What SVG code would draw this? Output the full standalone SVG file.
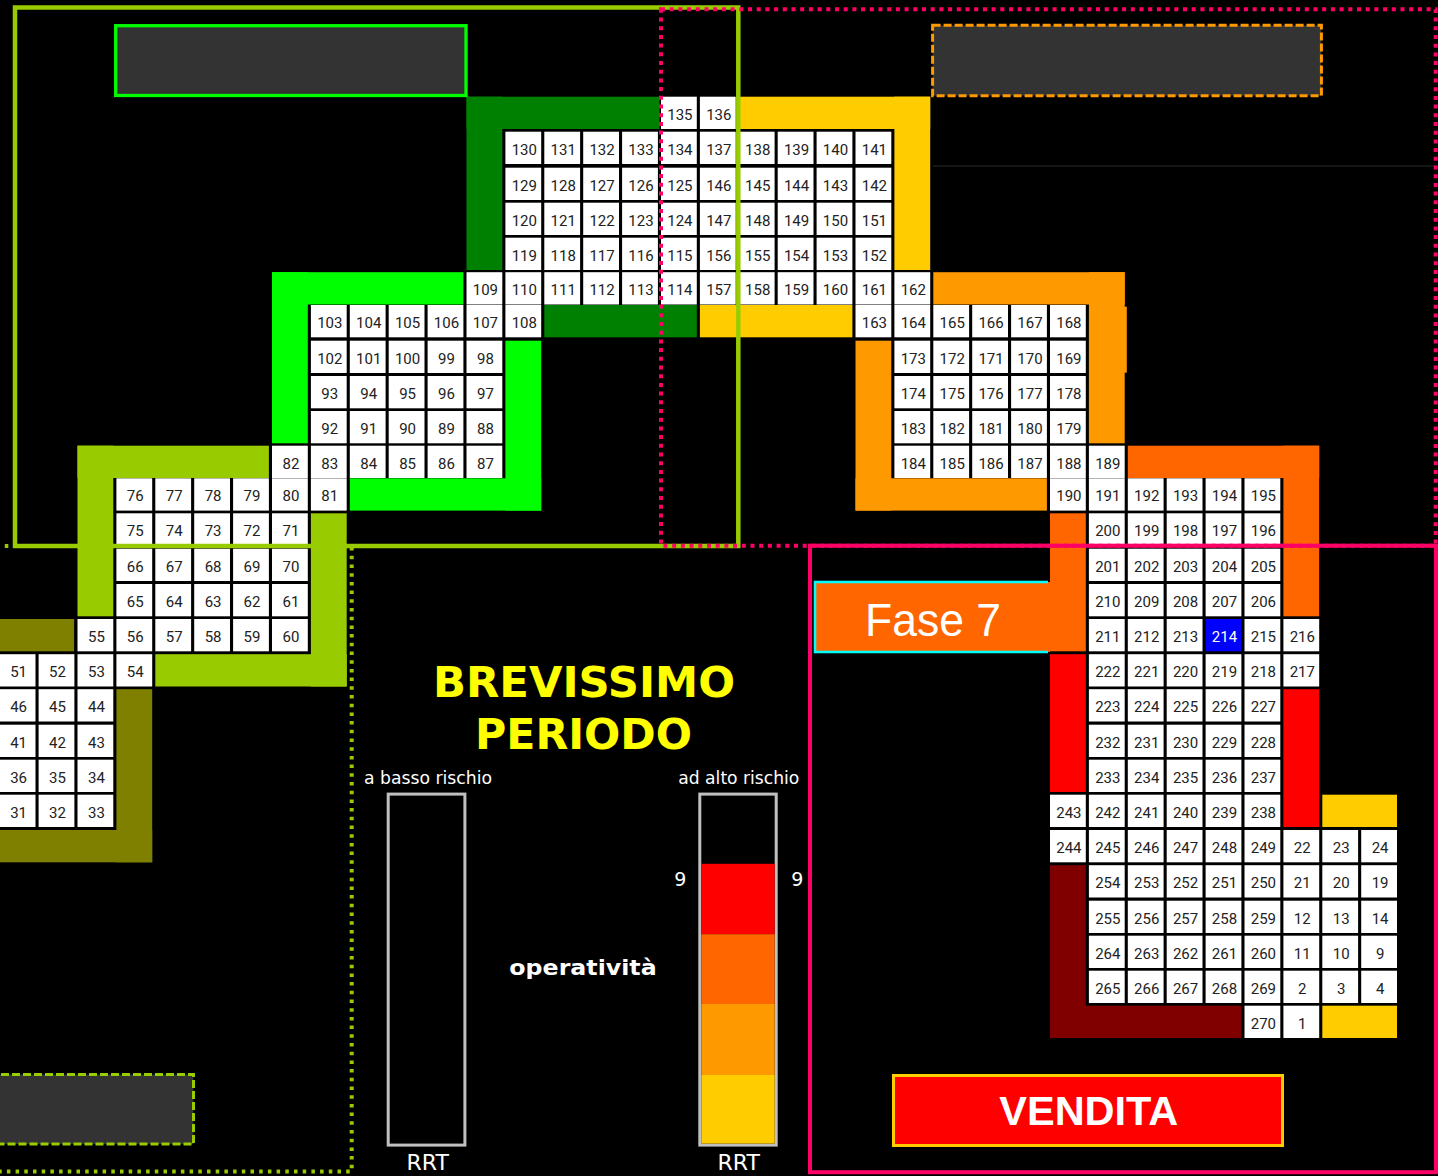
<svg xmlns="http://www.w3.org/2000/svg" xmlns:xlink="http://www.w3.org/1999/xlink" width="1438" height="1176" viewBox="0 0 1438 1176">
<style>
.cells text{font-family:Roboto,"Noto Sans","DejaVu Sans",sans-serif;font-size:15px;fill:#222;text-anchor:middle}
.lbl{font-family:"DejaVu Sans","Liberation Sans",sans-serif;fill:#fff}
.title{font-family:"DejaVu Sans","Liberation Sans",sans-serif;font-weight:bold;fill:#FFFF00;font-size:42px;text-anchor:middle}
.gbox{fill:#333333}
.dotp{fill:none;stroke:#FF0066;stroke-width:4;stroke-dasharray:4 4.7}
.dotg{fill:none;stroke:#99CC00;stroke-width:4;stroke-dasharray:3.5 5.2}
</style>
<defs><rect id="cb" width="35.8" height="32.3" fill="#fff"/></defs>
<rect x="0" y="0" width="1438" height="1176" fill="#000"/>

<g id="bands">
<g id="band-darkgreen" fill="#008000">
<rect x="466.5" y="96.7" width="193" height="32.3"/>
<rect x="466.5" y="96.7" width="35.8" height="173.3"/>
<rect x="544.3" y="305" width="152.5" height="32.3"/>
</g>
<g id="band-yellow" fill="#FFCC00">
<rect x="738.8" y="96.7" width="191.4" height="32.3"/>
<rect x="894.4" y="96.7" width="35.8" height="173.3"/>
<rect x="699.9" y="305" width="152.5" height="32.3"/>
<rect x="1322.3" y="794.7" width="74.7" height="32.3"/>
<rect x="1322.3" y="1005.7" width="74.7" height="32.3"/>
</g>
<g id="band-green" fill="#00FF00">
<rect x="272" y="272.2" width="191.4" height="32.3"/>
<rect x="272" y="272.2" width="35.8" height="171.1"/>
<rect x="505.4" y="340.7" width="35.8" height="169.9"/>
<rect x="349.8" y="478.3" width="191.4" height="32.3"/>
</g>
<g id="band-lime" fill="#99CC00">
<rect x="77.5" y="445.7" width="191.4" height="32.3"/>
<rect x="77.5" y="445.7" width="35.8" height="170.6"/>
<rect x="310.9" y="513.3" width="35.8" height="173.2"/>
<rect x="155.3" y="654.2" width="191.4" height="32.3"/>
</g>
<g id="band-olive" fill="#808000">
<rect x="0" y="619" width="74.1" height="32.3"/>
<rect x="116.4" y="689.2" width="35.8" height="173.1"/>
<rect x="0" y="830" width="152.2" height="32.3"/>
</g>
<g id="band-orange" fill="#FF9900">
<rect x="933.3" y="272.2" width="191.4" height="32.3"/>
<rect x="1088.9" y="272.2" width="35.8" height="171.1"/>
<rect x="1124" y="306.7" width="2.8" height="66"/>
<rect x="855.5" y="340.7" width="35.8" height="169.9"/>
<rect x="855.5" y="478.3" width="191.4" height="32.3"/>
</g>
<g id="band-darkorange" fill="#FF6600">
<rect x="1127.8" y="445.7" width="191.4" height="32.3"/>
<rect x="1283.4" y="445.7" width="35.8" height="170.6"/>
<rect x="1050" y="513.3" width="35.8" height="138"/>
</g>
<g id="band-red" fill="#FF0000">
<rect x="1050" y="654.2" width="35.8" height="137.8"/>
<rect x="1283.4" y="689.2" width="35.8" height="137.8"/>
</g>
<g id="band-darkred" fill="#800000">
<rect x="1050" y="865.2" width="35.8" height="172.8"/>
<rect x="1050" y="1005.7" width="191.4" height="32.3"/>
</g>
</g>

<g class="cells">
<g id="c135"><use href="#cb" x="661" y="96.7"/><text x="679.9" y="119.5">135</text></g>
<g id="c136"><use href="#cb" x="699.9" y="96.7"/><text x="718.8" y="119.5">136</text></g>

<g id="c130"><use href="#cb" x="505.4" y="131.7"/><text x="524.3" y="154.5">130</text></g>
<g id="c131"><use href="#cb" x="544.3" y="131.7"/><text x="563.2" y="154.5">131</text></g>
<g id="c132"><use href="#cb" x="583.2" y="131.7"/><text x="602.1" y="154.5">132</text></g>
<g id="c133"><use href="#cb" x="622.1" y="131.7"/><text x="641" y="154.5">133</text></g>
<g id="c134"><use href="#cb" x="661" y="131.7"/><text x="679.9" y="154.5">134</text></g>
<g id="c137"><use href="#cb" x="699.9" y="131.7"/><text x="718.8" y="154.5">137</text></g>
<g id="c138"><use href="#cb" x="738.8" y="131.7"/><text x="757.7" y="154.5">138</text></g>
<g id="c139"><use href="#cb" x="777.7" y="131.7"/><text x="796.6" y="154.5">139</text></g>
<g id="c140"><use href="#cb" x="816.6" y="131.7"/><text x="835.5" y="154.5">140</text></g>
<g id="c141"><use href="#cb" x="855.5" y="131.7"/><text x="874.4" y="154.5">141</text></g>

<g id="c129"><use href="#cb" x="505.4" y="167.7"/><text x="524.3" y="190.5">129</text></g>
<g id="c128"><use href="#cb" x="544.3" y="167.7"/><text x="563.2" y="190.5">128</text></g>
<g id="c127"><use href="#cb" x="583.2" y="167.7"/><text x="602.1" y="190.5">127</text></g>
<g id="c126"><use href="#cb" x="622.1" y="167.7"/><text x="641" y="190.5">126</text></g>
<g id="c125"><use href="#cb" x="661" y="167.7"/><text x="679.9" y="190.5">125</text></g>
<g id="c146"><use href="#cb" x="699.9" y="167.7"/><text x="718.8" y="190.5">146</text></g>
<g id="c145"><use href="#cb" x="738.8" y="167.7"/><text x="757.7" y="190.5">145</text></g>
<g id="c144"><use href="#cb" x="777.7" y="167.7"/><text x="796.6" y="190.5">144</text></g>
<g id="c143"><use href="#cb" x="816.6" y="167.7"/><text x="835.5" y="190.5">143</text></g>
<g id="c142"><use href="#cb" x="855.5" y="167.7"/><text x="874.4" y="190.5">142</text></g>

<g id="c120"><use href="#cb" x="505.4" y="202.7"/><text x="524.3" y="225.5">120</text></g>
<g id="c121"><use href="#cb" x="544.3" y="202.7"/><text x="563.2" y="225.5">121</text></g>
<g id="c122"><use href="#cb" x="583.2" y="202.7"/><text x="602.1" y="225.5">122</text></g>
<g id="c123"><use href="#cb" x="622.1" y="202.7"/><text x="641" y="225.5">123</text></g>
<g id="c124"><use href="#cb" x="661" y="202.7"/><text x="679.9" y="225.5">124</text></g>
<g id="c147"><use href="#cb" x="699.9" y="202.7"/><text x="718.8" y="225.5">147</text></g>
<g id="c148"><use href="#cb" x="738.8" y="202.7"/><text x="757.7" y="225.5">148</text></g>
<g id="c149"><use href="#cb" x="777.7" y="202.7"/><text x="796.6" y="225.5">149</text></g>
<g id="c150"><use href="#cb" x="816.6" y="202.7"/><text x="835.5" y="225.5">150</text></g>
<g id="c151"><use href="#cb" x="855.5" y="202.7"/><text x="874.4" y="225.5">151</text></g>

<g id="c119"><use href="#cb" x="505.4" y="237.7"/><text x="524.3" y="260.5">119</text></g>
<g id="c118"><use href="#cb" x="544.3" y="237.7"/><text x="563.2" y="260.5">118</text></g>
<g id="c117"><use href="#cb" x="583.2" y="237.7"/><text x="602.1" y="260.5">117</text></g>
<g id="c116"><use href="#cb" x="622.1" y="237.7"/><text x="641" y="260.5">116</text></g>
<g id="c115"><use href="#cb" x="661" y="237.7"/><text x="679.9" y="260.5">115</text></g>
<g id="c156"><use href="#cb" x="699.9" y="237.7"/><text x="718.8" y="260.5">156</text></g>
<g id="c155"><use href="#cb" x="738.8" y="237.7"/><text x="757.7" y="260.5">155</text></g>
<g id="c154"><use href="#cb" x="777.7" y="237.7"/><text x="796.6" y="260.5">154</text></g>
<g id="c153"><use href="#cb" x="816.6" y="237.7"/><text x="835.5" y="260.5">153</text></g>
<g id="c152"><use href="#cb" x="855.5" y="237.7"/><text x="874.4" y="260.5">152</text></g>

<g id="c109"><use href="#cb" x="466.5" y="272.2"/><text x="485.4" y="295">109</text></g>
<g id="c110"><use href="#cb" x="505.4" y="272.2"/><text x="524.3" y="295">110</text></g>
<g id="c111"><use href="#cb" x="544.3" y="272.2"/><text x="563.2" y="295">111</text></g>
<g id="c112"><use href="#cb" x="583.2" y="272.2"/><text x="602.1" y="295">112</text></g>
<g id="c113"><use href="#cb" x="622.1" y="272.2"/><text x="641" y="295">113</text></g>
<g id="c114"><use href="#cb" x="661" y="272.2"/><text x="679.9" y="295">114</text></g>
<g id="c157"><use href="#cb" x="699.9" y="272.2"/><text x="718.8" y="295">157</text></g>
<g id="c158"><use href="#cb" x="738.8" y="272.2"/><text x="757.7" y="295">158</text></g>
<g id="c159"><use href="#cb" x="777.7" y="272.2"/><text x="796.6" y="295">159</text></g>
<g id="c160"><use href="#cb" x="816.6" y="272.2"/><text x="835.5" y="295">160</text></g>
<g id="c161"><use href="#cb" x="855.5" y="272.2"/><text x="874.4" y="295">161</text></g>
<g id="c162"><use href="#cb" x="894.4" y="272.2"/><text x="913.3" y="295">162</text></g>

<g id="c103"><use href="#cb" x="310.9" y="305"/><text x="329.8" y="327.8">103</text></g>
<g id="c104"><use href="#cb" x="349.8" y="305"/><text x="368.7" y="327.8">104</text></g>
<g id="c105"><use href="#cb" x="388.7" y="305"/><text x="407.6" y="327.8">105</text></g>
<g id="c106"><use href="#cb" x="427.6" y="305"/><text x="446.5" y="327.8">106</text></g>
<g id="c107"><use href="#cb" x="466.5" y="305"/><text x="485.4" y="327.8">107</text></g>
<g id="c108"><use href="#cb" x="505.4" y="305"/><text x="524.3" y="327.8">108</text></g>
<g id="c163"><use href="#cb" x="855.5" y="305"/><text x="874.4" y="327.8">163</text></g>
<g id="c164"><use href="#cb" x="894.4" y="305"/><text x="913.3" y="327.8">164</text></g>
<g id="c165"><use href="#cb" x="933.3" y="305"/><text x="952.2" y="327.8">165</text></g>
<g id="c166"><use href="#cb" x="972.2" y="305"/><text x="991.1" y="327.8">166</text></g>
<g id="c167"><use href="#cb" x="1011.1" y="305"/><text x="1030" y="327.8">167</text></g>
<g id="c168"><use href="#cb" x="1050" y="305"/><text x="1068.9" y="327.8">168</text></g>

<g id="c102"><use href="#cb" x="310.9" y="340.7"/><text x="329.8" y="363.5">102</text></g>
<g id="c101"><use href="#cb" x="349.8" y="340.7"/><text x="368.7" y="363.5">101</text></g>
<g id="c100"><use href="#cb" x="388.7" y="340.7"/><text x="407.6" y="363.5">100</text></g>
<g id="c99"><use href="#cb" x="427.6" y="340.7"/><text x="446.5" y="363.5">99</text></g>
<g id="c98"><use href="#cb" x="466.5" y="340.7"/><text x="485.4" y="363.5">98</text></g>
<g id="c173"><use href="#cb" x="894.4" y="340.7"/><text x="913.3" y="363.5">173</text></g>
<g id="c172"><use href="#cb" x="933.3" y="340.7"/><text x="952.2" y="363.5">172</text></g>
<g id="c171"><use href="#cb" x="972.2" y="340.7"/><text x="991.1" y="363.5">171</text></g>
<g id="c170"><use href="#cb" x="1011.1" y="340.7"/><text x="1030" y="363.5">170</text></g>
<g id="c169"><use href="#cb" x="1050" y="340.7"/><text x="1068.9" y="363.5">169</text></g>

<g id="c93"><use href="#cb" x="310.9" y="376"/><text x="329.8" y="398.8">93</text></g>
<g id="c94"><use href="#cb" x="349.8" y="376"/><text x="368.7" y="398.8">94</text></g>
<g id="c95"><use href="#cb" x="388.7" y="376"/><text x="407.6" y="398.8">95</text></g>
<g id="c96"><use href="#cb" x="427.6" y="376"/><text x="446.5" y="398.8">96</text></g>
<g id="c97"><use href="#cb" x="466.5" y="376"/><text x="485.4" y="398.8">97</text></g>
<g id="c174"><use href="#cb" x="894.4" y="376"/><text x="913.3" y="398.8">174</text></g>
<g id="c175"><use href="#cb" x="933.3" y="376"/><text x="952.2" y="398.8">175</text></g>
<g id="c176"><use href="#cb" x="972.2" y="376"/><text x="991.1" y="398.8">176</text></g>
<g id="c177"><use href="#cb" x="1011.1" y="376"/><text x="1030" y="398.8">177</text></g>
<g id="c178"><use href="#cb" x="1050" y="376"/><text x="1068.9" y="398.8">178</text></g>

<g id="c92"><use href="#cb" x="310.9" y="411"/><text x="329.8" y="433.8">92</text></g>
<g id="c91"><use href="#cb" x="349.8" y="411"/><text x="368.7" y="433.8">91</text></g>
<g id="c90"><use href="#cb" x="388.7" y="411"/><text x="407.6" y="433.8">90</text></g>
<g id="c89"><use href="#cb" x="427.6" y="411"/><text x="446.5" y="433.8">89</text></g>
<g id="c88"><use href="#cb" x="466.5" y="411"/><text x="485.4" y="433.8">88</text></g>
<g id="c183"><use href="#cb" x="894.4" y="411"/><text x="913.3" y="433.8">183</text></g>
<g id="c182"><use href="#cb" x="933.3" y="411"/><text x="952.2" y="433.8">182</text></g>
<g id="c181"><use href="#cb" x="972.2" y="411"/><text x="991.1" y="433.8">181</text></g>
<g id="c180"><use href="#cb" x="1011.1" y="411"/><text x="1030" y="433.8">180</text></g>
<g id="c179"><use href="#cb" x="1050" y="411"/><text x="1068.9" y="433.8">179</text></g>

<g id="c82"><use href="#cb" x="272" y="445.7"/><text x="290.9" y="468.5">82</text></g>
<g id="c83"><use href="#cb" x="310.9" y="445.7"/><text x="329.8" y="468.5">83</text></g>
<g id="c84"><use href="#cb" x="349.8" y="445.7"/><text x="368.7" y="468.5">84</text></g>
<g id="c85"><use href="#cb" x="388.7" y="445.7"/><text x="407.6" y="468.5">85</text></g>
<g id="c86"><use href="#cb" x="427.6" y="445.7"/><text x="446.5" y="468.5">86</text></g>
<g id="c87"><use href="#cb" x="466.5" y="445.7"/><text x="485.4" y="468.5">87</text></g>
<g id="c184"><use href="#cb" x="894.4" y="445.7"/><text x="913.3" y="468.5">184</text></g>
<g id="c185"><use href="#cb" x="933.3" y="445.7"/><text x="952.2" y="468.5">185</text></g>
<g id="c186"><use href="#cb" x="972.2" y="445.7"/><text x="991.1" y="468.5">186</text></g>
<g id="c187"><use href="#cb" x="1011.1" y="445.7"/><text x="1030" y="468.5">187</text></g>
<g id="c188"><use href="#cb" x="1050" y="445.7"/><text x="1068.9" y="468.5">188</text></g>
<g id="c189"><use href="#cb" x="1088.9" y="445.7"/><text x="1107.8" y="468.5">189</text></g>

<g id="c76"><use href="#cb" x="116.4" y="478.3"/><text x="135.3" y="501.1">76</text></g>
<g id="c77"><use href="#cb" x="155.3" y="478.3"/><text x="174.2" y="501.1">77</text></g>
<g id="c78"><use href="#cb" x="194.2" y="478.3"/><text x="213.1" y="501.1">78</text></g>
<g id="c79"><use href="#cb" x="233.1" y="478.3"/><text x="252" y="501.1">79</text></g>
<g id="c80"><use href="#cb" x="272" y="478.3"/><text x="290.9" y="501.1">80</text></g>
<g id="c81"><use href="#cb" x="310.9" y="478.3"/><text x="329.8" y="501.1">81</text></g>
<g id="c190"><use href="#cb" x="1050" y="478.3"/><text x="1068.9" y="501.1">190</text></g>
<g id="c191"><use href="#cb" x="1088.9" y="478.3"/><text x="1107.8" y="501.1">191</text></g>
<g id="c192"><use href="#cb" x="1127.8" y="478.3"/><text x="1146.7" y="501.1">192</text></g>
<g id="c193"><use href="#cb" x="1166.7" y="478.3"/><text x="1185.6" y="501.1">193</text></g>
<g id="c194"><use href="#cb" x="1205.6" y="478.3"/><text x="1224.5" y="501.1">194</text></g>
<g id="c195"><use href="#cb" x="1244.5" y="478.3"/><text x="1263.4" y="501.1">195</text></g>

<g id="c75"><use href="#cb" x="116.4" y="513.3"/><text x="135.3" y="536.1">75</text></g>
<g id="c74"><use href="#cb" x="155.3" y="513.3"/><text x="174.2" y="536.1">74</text></g>
<g id="c73"><use href="#cb" x="194.2" y="513.3"/><text x="213.1" y="536.1">73</text></g>
<g id="c72"><use href="#cb" x="233.1" y="513.3"/><text x="252" y="536.1">72</text></g>
<g id="c71"><use href="#cb" x="272" y="513.3"/><text x="290.9" y="536.1">71</text></g>
<g id="c200"><use href="#cb" x="1088.9" y="513.3"/><text x="1107.8" y="536.1">200</text></g>
<g id="c199"><use href="#cb" x="1127.8" y="513.3"/><text x="1146.7" y="536.1">199</text></g>
<g id="c198"><use href="#cb" x="1166.7" y="513.3"/><text x="1185.6" y="536.1">198</text></g>
<g id="c197"><use href="#cb" x="1205.6" y="513.3"/><text x="1224.5" y="536.1">197</text></g>
<g id="c196"><use href="#cb" x="1244.5" y="513.3"/><text x="1263.4" y="536.1">196</text></g>

<g id="c66"><use href="#cb" x="116.4" y="548.7"/><text x="135.3" y="571.5">66</text></g>
<g id="c67"><use href="#cb" x="155.3" y="548.7"/><text x="174.2" y="571.5">67</text></g>
<g id="c68"><use href="#cb" x="194.2" y="548.7"/><text x="213.1" y="571.5">68</text></g>
<g id="c69"><use href="#cb" x="233.1" y="548.7"/><text x="252" y="571.5">69</text></g>
<g id="c70"><use href="#cb" x="272" y="548.7"/><text x="290.9" y="571.5">70</text></g>
<g id="c201"><use href="#cb" x="1088.9" y="548.7"/><text x="1107.8" y="571.5">201</text></g>
<g id="c202"><use href="#cb" x="1127.8" y="548.7"/><text x="1146.7" y="571.5">202</text></g>
<g id="c203"><use href="#cb" x="1166.7" y="548.7"/><text x="1185.6" y="571.5">203</text></g>
<g id="c204"><use href="#cb" x="1205.6" y="548.7"/><text x="1224.5" y="571.5">204</text></g>
<g id="c205"><use href="#cb" x="1244.5" y="548.7"/><text x="1263.4" y="571.5">205</text></g>

<g id="c65"><use href="#cb" x="116.4" y="584"/><text x="135.3" y="606.8">65</text></g>
<g id="c64"><use href="#cb" x="155.3" y="584"/><text x="174.2" y="606.8">64</text></g>
<g id="c63"><use href="#cb" x="194.2" y="584"/><text x="213.1" y="606.8">63</text></g>
<g id="c62"><use href="#cb" x="233.1" y="584"/><text x="252" y="606.8">62</text></g>
<g id="c61"><use href="#cb" x="272" y="584"/><text x="290.9" y="606.8">61</text></g>
<g id="c210"><use href="#cb" x="1088.9" y="584"/><text x="1107.8" y="606.8">210</text></g>
<g id="c209"><use href="#cb" x="1127.8" y="584"/><text x="1146.7" y="606.8">209</text></g>
<g id="c208"><use href="#cb" x="1166.7" y="584"/><text x="1185.6" y="606.8">208</text></g>
<g id="c207"><use href="#cb" x="1205.6" y="584"/><text x="1224.5" y="606.8">207</text></g>
<g id="c206"><use href="#cb" x="1244.5" y="584"/><text x="1263.4" y="606.8">206</text></g>

<g id="c55"><use href="#cb" x="77.5" y="619"/><text x="96.4" y="641.8">55</text></g>
<g id="c56"><use href="#cb" x="116.4" y="619"/><text x="135.3" y="641.8">56</text></g>
<g id="c57"><use href="#cb" x="155.3" y="619"/><text x="174.2" y="641.8">57</text></g>
<g id="c58"><use href="#cb" x="194.2" y="619"/><text x="213.1" y="641.8">58</text></g>
<g id="c59"><use href="#cb" x="233.1" y="619"/><text x="252" y="641.8">59</text></g>
<g id="c60"><use href="#cb" x="272" y="619"/><text x="290.9" y="641.8">60</text></g>
<g id="c211"><use href="#cb" x="1088.9" y="619"/><text x="1107.8" y="641.8">211</text></g>
<g id="c212"><use href="#cb" x="1127.8" y="619"/><text x="1146.7" y="641.8">212</text></g>
<g id="c213"><use href="#cb" x="1166.7" y="619"/><text x="1185.6" y="641.8">213</text></g>
<g id="c214"><rect x="1205.6" y="619" width="35.8" height="32.3" fill="#0000FF"/><text x="1224.5" y="641.8" style="fill:#fff">214</text></g>
<g id="c215"><use href="#cb" x="1244.5" y="619"/><text x="1263.4" y="641.8">215</text></g>
<g id="c216"><use href="#cb" x="1283.4" y="619"/><text x="1302.3" y="641.8">216</text></g>

<g id="c51"><use href="#cb" x="-0.3" y="654.2"/><text x="18.6" y="677">51</text></g>
<g id="c52"><use href="#cb" x="38.6" y="654.2"/><text x="57.5" y="677">52</text></g>
<g id="c53"><use href="#cb" x="77.5" y="654.2"/><text x="96.4" y="677">53</text></g>
<g id="c54"><use href="#cb" x="116.4" y="654.2"/><text x="135.3" y="677">54</text></g>
<g id="c222"><use href="#cb" x="1088.9" y="654.2"/><text x="1107.8" y="677">222</text></g>
<g id="c221"><use href="#cb" x="1127.8" y="654.2"/><text x="1146.7" y="677">221</text></g>
<g id="c220"><use href="#cb" x="1166.7" y="654.2"/><text x="1185.6" y="677">220</text></g>
<g id="c219"><use href="#cb" x="1205.6" y="654.2"/><text x="1224.5" y="677">219</text></g>
<g id="c218"><use href="#cb" x="1244.5" y="654.2"/><text x="1263.4" y="677">218</text></g>
<g id="c217"><use href="#cb" x="1283.4" y="654.2"/><text x="1302.3" y="677">217</text></g>

<g id="c46"><use href="#cb" x="-0.3" y="689.2"/><text x="18.6" y="712">46</text></g>
<g id="c45"><use href="#cb" x="38.6" y="689.2"/><text x="57.5" y="712">45</text></g>
<g id="c44"><use href="#cb" x="77.5" y="689.2"/><text x="96.4" y="712">44</text></g>
<g id="c223"><use href="#cb" x="1088.9" y="689.2"/><text x="1107.8" y="712">223</text></g>
<g id="c224"><use href="#cb" x="1127.8" y="689.2"/><text x="1146.7" y="712">224</text></g>
<g id="c225"><use href="#cb" x="1166.7" y="689.2"/><text x="1185.6" y="712">225</text></g>
<g id="c226"><use href="#cb" x="1205.6" y="689.2"/><text x="1224.5" y="712">226</text></g>
<g id="c227"><use href="#cb" x="1244.5" y="689.2"/><text x="1263.4" y="712">227</text></g>

<g id="c41"><use href="#cb" x="-0.3" y="724.7"/><text x="18.6" y="747.5">41</text></g>
<g id="c42"><use href="#cb" x="38.6" y="724.7"/><text x="57.5" y="747.5">42</text></g>
<g id="c43"><use href="#cb" x="77.5" y="724.7"/><text x="96.4" y="747.5">43</text></g>
<g id="c232"><use href="#cb" x="1088.9" y="724.7"/><text x="1107.8" y="747.5">232</text></g>
<g id="c231"><use href="#cb" x="1127.8" y="724.7"/><text x="1146.7" y="747.5">231</text></g>
<g id="c230"><use href="#cb" x="1166.7" y="724.7"/><text x="1185.6" y="747.5">230</text></g>
<g id="c229"><use href="#cb" x="1205.6" y="724.7"/><text x="1224.5" y="747.5">229</text></g>
<g id="c228"><use href="#cb" x="1244.5" y="724.7"/><text x="1263.4" y="747.5">228</text></g>

<g id="c36"><use href="#cb" x="-0.3" y="759.7"/><text x="18.6" y="782.5">36</text></g>
<g id="c35"><use href="#cb" x="38.6" y="759.7"/><text x="57.5" y="782.5">35</text></g>
<g id="c34"><use href="#cb" x="77.5" y="759.7"/><text x="96.4" y="782.5">34</text></g>
<g id="c233"><use href="#cb" x="1088.9" y="759.7"/><text x="1107.8" y="782.5">233</text></g>
<g id="c234"><use href="#cb" x="1127.8" y="759.7"/><text x="1146.7" y="782.5">234</text></g>
<g id="c235"><use href="#cb" x="1166.7" y="759.7"/><text x="1185.6" y="782.5">235</text></g>
<g id="c236"><use href="#cb" x="1205.6" y="759.7"/><text x="1224.5" y="782.5">236</text></g>
<g id="c237"><use href="#cb" x="1244.5" y="759.7"/><text x="1263.4" y="782.5">237</text></g>

<g id="c31"><use href="#cb" x="-0.3" y="794.7"/><text x="18.6" y="817.5">31</text></g>
<g id="c32"><use href="#cb" x="38.6" y="794.7"/><text x="57.5" y="817.5">32</text></g>
<g id="c33"><use href="#cb" x="77.5" y="794.7"/><text x="96.4" y="817.5">33</text></g>
<g id="c243"><use href="#cb" x="1050" y="794.7"/><text x="1068.9" y="817.5">243</text></g>
<g id="c242"><use href="#cb" x="1088.9" y="794.7"/><text x="1107.8" y="817.5">242</text></g>
<g id="c241"><use href="#cb" x="1127.8" y="794.7"/><text x="1146.7" y="817.5">241</text></g>
<g id="c240"><use href="#cb" x="1166.7" y="794.7"/><text x="1185.6" y="817.5">240</text></g>
<g id="c239"><use href="#cb" x="1205.6" y="794.7"/><text x="1224.5" y="817.5">239</text></g>
<g id="c238"><use href="#cb" x="1244.5" y="794.7"/><text x="1263.4" y="817.5">238</text></g>

<g id="c244"><use href="#cb" x="1050" y="830"/><text x="1068.9" y="852.8">244</text></g>
<g id="c245"><use href="#cb" x="1088.9" y="830"/><text x="1107.8" y="852.8">245</text></g>
<g id="c246"><use href="#cb" x="1127.8" y="830"/><text x="1146.7" y="852.8">246</text></g>
<g id="c247"><use href="#cb" x="1166.7" y="830"/><text x="1185.6" y="852.8">247</text></g>
<g id="c248"><use href="#cb" x="1205.6" y="830"/><text x="1224.5" y="852.8">248</text></g>
<g id="c249"><use href="#cb" x="1244.5" y="830"/><text x="1263.4" y="852.8">249</text></g>
<g id="c22"><use href="#cb" x="1283.4" y="830"/><text x="1302.3" y="852.8">22</text></g>
<g id="c23"><use href="#cb" x="1322.3" y="830"/><text x="1341.2" y="852.8">23</text></g>
<g id="c24"><use href="#cb" x="1361.2" y="830"/><text x="1380.1" y="852.8">24</text></g>

<g id="c254"><use href="#cb" x="1088.9" y="865.2"/><text x="1107.8" y="888">254</text></g>
<g id="c253"><use href="#cb" x="1127.8" y="865.2"/><text x="1146.7" y="888">253</text></g>
<g id="c252"><use href="#cb" x="1166.7" y="865.2"/><text x="1185.6" y="888">252</text></g>
<g id="c251"><use href="#cb" x="1205.6" y="865.2"/><text x="1224.5" y="888">251</text></g>
<g id="c250"><use href="#cb" x="1244.5" y="865.2"/><text x="1263.4" y="888">250</text></g>
<g id="c21"><use href="#cb" x="1283.4" y="865.2"/><text x="1302.3" y="888">21</text></g>
<g id="c20"><use href="#cb" x="1322.3" y="865.2"/><text x="1341.2" y="888">20</text></g>
<g id="c19"><use href="#cb" x="1361.2" y="865.2"/><text x="1380.1" y="888">19</text></g>

<g id="c255"><use href="#cb" x="1088.9" y="900.7"/><text x="1107.8" y="923.5">255</text></g>
<g id="c256"><use href="#cb" x="1127.8" y="900.7"/><text x="1146.7" y="923.5">256</text></g>
<g id="c257"><use href="#cb" x="1166.7" y="900.7"/><text x="1185.6" y="923.5">257</text></g>
<g id="c258"><use href="#cb" x="1205.6" y="900.7"/><text x="1224.5" y="923.5">258</text></g>
<g id="c259"><use href="#cb" x="1244.5" y="900.7"/><text x="1263.4" y="923.5">259</text></g>
<g id="c12"><use href="#cb" x="1283.4" y="900.7"/><text x="1302.3" y="923.5">12</text></g>
<g id="c13"><use href="#cb" x="1322.3" y="900.7"/><text x="1341.2" y="923.5">13</text></g>
<g id="c14"><use href="#cb" x="1361.2" y="900.7"/><text x="1380.1" y="923.5">14</text></g>

<g id="c264"><use href="#cb" x="1088.9" y="935.7"/><text x="1107.8" y="958.5">264</text></g>
<g id="c263"><use href="#cb" x="1127.8" y="935.7"/><text x="1146.7" y="958.5">263</text></g>
<g id="c262"><use href="#cb" x="1166.7" y="935.7"/><text x="1185.6" y="958.5">262</text></g>
<g id="c261"><use href="#cb" x="1205.6" y="935.7"/><text x="1224.5" y="958.5">261</text></g>
<g id="c260"><use href="#cb" x="1244.5" y="935.7"/><text x="1263.4" y="958.5">260</text></g>
<g id="c11"><use href="#cb" x="1283.4" y="935.7"/><text x="1302.3" y="958.5">11</text></g>
<g id="c10"><use href="#cb" x="1322.3" y="935.7"/><text x="1341.2" y="958.5">10</text></g>
<g id="c9"><use href="#cb" x="1361.2" y="935.7"/><text x="1380.1" y="958.5">9</text></g>

<g id="c265"><use href="#cb" x="1088.9" y="970.7"/><text x="1107.8" y="993.5">265</text></g>
<g id="c266"><use href="#cb" x="1127.8" y="970.7"/><text x="1146.7" y="993.5">266</text></g>
<g id="c267"><use href="#cb" x="1166.7" y="970.7"/><text x="1185.6" y="993.5">267</text></g>
<g id="c268"><use href="#cb" x="1205.6" y="970.7"/><text x="1224.5" y="993.5">268</text></g>
<g id="c269"><use href="#cb" x="1244.5" y="970.7"/><text x="1263.4" y="993.5">269</text></g>
<g id="c2"><use href="#cb" x="1283.4" y="970.7"/><text x="1302.3" y="993.5">2</text></g>
<g id="c3"><use href="#cb" x="1322.3" y="970.7"/><text x="1341.2" y="993.5">3</text></g>
<g id="c4"><use href="#cb" x="1361.2" y="970.7"/><text x="1380.1" y="993.5">4</text></g>

<g id="c270"><use href="#cb" x="1244.5" y="1005.7"/><text x="1263.4" y="1028.5">270</text></g>
<g id="c1"><use href="#cb" x="1283.4" y="1005.7"/><text x="1302.3" y="1028.5">1</text></g>
</g>

<g id="boxes">
<rect id="box-green" class="gbox" x="115.7" y="25.7" width="350.3" height="69.8" stroke="#00FF00" stroke-width="3.3"/>
<rect id="box-orange" class="gbox" x="932.6" y="25.3" width="388.8" height="70.4" stroke="#FF9900" stroke-width="3" stroke-dasharray="8 3"/>
<rect id="box-lime" class="gbox" x="-10" y="1074.5" width="203.5" height="69.5" stroke="#99CC00" stroke-width="3" stroke-dasharray="8 3"/>
<line x1="933" y1="166" x2="1436" y2="166" stroke="#1c1c1c" stroke-width="1.5"/>
</g>

<g id="fase7">
<rect x="815" y="582" width="235" height="70" fill="#FF6600"/>
<path d="M1048,582 H815 V652 H1048" fill="none" stroke="#00FFFF" stroke-width="2.5"/>
<text x="865" y="636" font-family="'Liberation Sans',Arial,sans-serif" font-size="46" fill="#fff" textLength="136" lengthAdjust="spacingAndGlyphs">Fase 7</text>
</g>

<g id="frames">
<rect x="15" y="7.5" width="723.3" height="538.5" fill="none" stroke="#99CC00" stroke-width="4.5"/>
<rect class="dotg" x="-30" y="546" width="381.7" height="625.5"/>
<rect class="dotp" x="661" y="9.3" width="774.7" height="536.4"/>
<rect x="810" y="545.7" width="626" height="626.5" fill="none" stroke="#FF0066" stroke-width="4"/>
</g>

<g id="title">
<text class="title" x="584" y="696.5" textLength="302" lengthAdjust="spacingAndGlyphs">BREVISSIMO</text>
<text class="title" x="583.5" y="749" textLength="217" lengthAdjust="spacingAndGlyphs">PERIODO</text>
</g>

<g id="bar-low">
<text class="lbl" x="364" y="783.5" font-size="18.5" textLength="128" lengthAdjust="spacingAndGlyphs">a basso rischio</text>
<rect x="388.2" y="794.1" width="76.7" height="351" fill="#000" stroke="#C0C0C0" stroke-width="3"/>
<text class="lbl" x="427.8" y="1170" font-size="22" text-anchor="middle">RRT</text>
</g>

<g id="bar-high">
<text class="lbl" x="678.3" y="783.5" font-size="18.5" textLength="121" lengthAdjust="spacingAndGlyphs">ad alto rischio</text>
<rect x="699.8" y="794.1" width="76.4" height="351" fill="#000" stroke="#C0C0C0" stroke-width="3"/>
<rect x="701.3" y="863.8" width="73.4" height="70.4" fill="#FF0000"/>
<rect x="701.3" y="934.2" width="73.4" height="69.8" fill="#FF6600"/>
<rect x="701.3" y="1004" width="73.4" height="71" fill="#FF9900"/>
<rect x="701.3" y="1075" width="73.4" height="68.6" fill="#FFCC00"/>
<text class="lbl" x="680.3" y="886" font-size="19" text-anchor="middle">9</text>
<text class="lbl" x="797.3" y="886" font-size="19" text-anchor="middle">9</text>
<text class="lbl" x="738.8" y="1170" font-size="22" text-anchor="middle">RRT</text>
</g>

<text id="operativita" class="lbl" x="509.3" y="975" font-size="22" font-weight="bold" textLength="147.4" lengthAdjust="spacingAndGlyphs">operatività</text>

<g id="vendita">
<rect x="893.5" y="1075.5" width="389" height="70" fill="#FF0000" stroke="#FFCC00" stroke-width="3"/>
<text x="1088.8" y="1125" font-family="'Liberation Sans',Arial,sans-serif" font-weight="bold" font-size="40" fill="#fff" text-anchor="middle" textLength="179" lengthAdjust="spacingAndGlyphs">VENDITA</text>
</g>
</svg>
